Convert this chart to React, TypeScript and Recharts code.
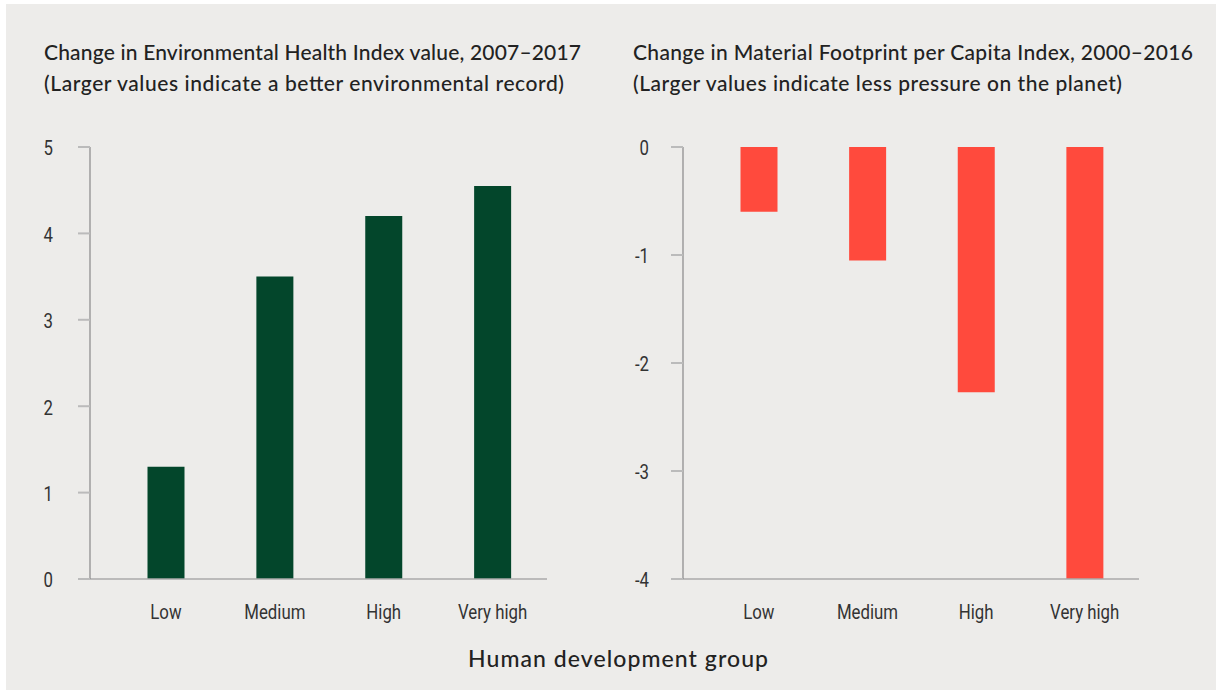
import React from "react";
import { BarChart, Bar, XAxis, YAxis } from "recharts";

const categories = ["Low", "Medium", "High", "Very high"];
const ehiChange = [1.3, 3.5, 4.2, 4.55];
const mfChange = [-0.6, -1.05, -2.27, -4.0];
const ehiTicks = [0, 1, 2, 3, 4, 5];
const mfTicks = [-4, -3, -2, -1, 0];

const leftTitle = [
  "Change in Environmental Health Index value, 2007\u20132017",
  "(Larger values indicate a better environmental record)",
];
const rightTitle = [
  "Change in Material Footprint per Capita Index, 2000\u20132016",
  "(Larger values indicate less pressure on the planet)",
];
const xAxisTitle = "Human development group";

const ehiData = categories.map((c, i) => ({ group: c, value: ehiChange[i] }));
const mfData = categories.map((c, i) => ({ group: c, value: mfChange[i] }));

const BG = "#EDECEA";
const GREEN = "#03462B";
const RED = "#FF4A3D";
const TICK_FAMILY = "Roboto, 'Noto Sans', sans-serif";
const titleFont = "Lato, 'Noto Sans', sans-serif";

const XTick = (props: any) => {
  const { x, y, payload } = props;
  return (
    <g transform={`translate(${x},${y})`}>
      <text transform="scale(0.8,1)" textAnchor="middle" dy="0.71em" fontFamily={TICK_FAMILY} fontSize={21} fill="#333">
        {payload.value}
      </text>
    </g>
  );
};

const YTick = (props: any) => {
  const { x, y, payload } = props;
  return (
    <g transform={`translate(${x},${y})`}>
      <text transform="scale(0.8,1)" textAnchor="end" dy="0.4em" fontFamily={TICK_FAMILY} fontSize={21} fill="#333">
        {payload.value}
      </text>
    </g>
  );
};

export default function App() {
  return (
    <div style={{ position: "absolute", left: 0, top: 0, width: 1216, height: 690, background: "#fff", overflow: "hidden" }}>
      <div style={{ position: "absolute", left: 6, top: 4, width: 1210, height: 686, background: BG }} />
      <div style={{ position: "absolute", left: 0, top: 0 }}>
        <BarChart width={600} height={690} data={ehiData} margin={{ top: 147, right: 53, bottom: 51, left: 30 }}>
          <XAxis
            dataKey="group"
            interval={0}
            height={60}
            padding={{ left: 21.5, right: 0 }}
            axisLine={{ stroke: "#aaa", strokeWidth: 1.5 }}
            tickLine={false}
            tickMargin={19}
            tick={<XTick />}
          />
          <YAxis
            type="number"
            domain={[0, 5]}
            ticks={ehiTicks}
            width={60}
            axisLine={{ stroke: "#888", strokeWidth: 1.2 }}
            tickLine={{ stroke: "#bbb", strokeWidth: 2 }}
            tickSize={12}
            tickMargin={25}
            tick={<YTick />}
          />
          <Bar dataKey="value" fill={GREEN} barSize={37} isAnimationActive={false} />
        </BarChart>
      </div>
      <div style={{ position: "absolute", left: 600, top: 0 }}>
        <BarChart width={616} height={690} data={mfData} margin={{ top: 147, right: 77, bottom: 51, left: 23 }}>
          <XAxis
            dataKey="group"
            interval={0}
            height={60}
            padding={{ left: 21.5, right: 0 }}
            axisLine={{ stroke: "#aaa", strokeWidth: 1.5 }}
            tickLine={false}
            tickMargin={19}
            tick={<XTick />}
          />
          <YAxis
            type="number"
            domain={[-4, 0]}
            ticks={mfTicks}
            width={60}
            axisLine={{ stroke: "#888", strokeWidth: 1.2 }}
            tickLine={{ stroke: "#bbb", strokeWidth: 2 }}
            tickSize={12}
            tickMargin={22}
            tick={<YTick />}
          />
          <Bar dataKey="value" fill={RED} barSize={37} isAnimationActive={false} />
        </BarChart>
      </div>
      <svg width={1216} height={690} style={{ position: "absolute", left: 0, top: 0, pointerEvents: "none" }}>
        <g fontFamily={titleFont} fontWeight={500} fontSize={21} fill="#222">
          <text x={44} y={60} textLength={537} lengthAdjust="spacing">{leftTitle[0]}</text>
          <text x={44} y={91} textLength={520} lengthAdjust="spacing">{leftTitle[1]}</text>
          <text x={633} y={60} textLength={560} lengthAdjust="spacing">{rightTitle[0]}</text>
          <text x={633} y={91} textLength={489} lengthAdjust="spacing">{rightTitle[1]}</text>
        </g>
        <text x={468} y={667} textLength={300} lengthAdjust="spacing" fontFamily={titleFont} fontWeight={500} fontSize={23} fill="#222">
          {xAxisTitle}
        </text>
      </svg>
    </div>
  );
}
